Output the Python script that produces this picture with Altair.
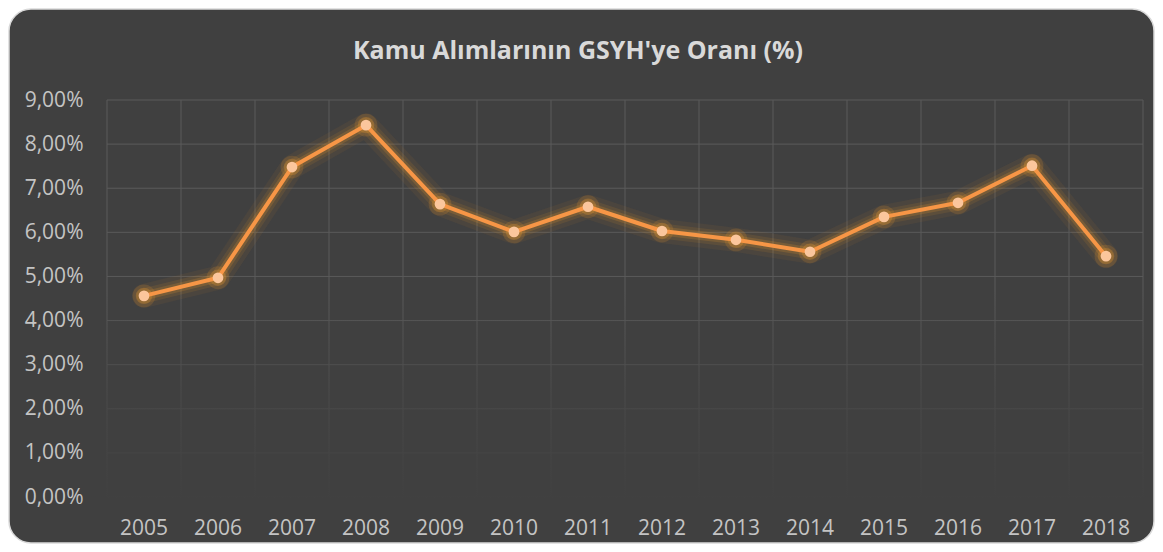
import altair as alt
import pandas as pd

years = ["2005", "2006", "2007", "2008", "2009", "2010", "2011",
         "2012", "2013", "2014", "2015", "2016", "2017", "2018"]
shares = [0.0456, 0.0497, 0.0748, 0.0843, 0.0664, 0.0601, 0.0658,
          0.0603, 0.0583, 0.0556, 0.0635, 0.0667, 0.0751, 0.0546]
y_ticks = [0.0, 0.01, 0.02, 0.03, 0.04, 0.05, 0.06, 0.07, 0.08, 0.09]
title_text = ["Kamu Alımlarının GSYH'ye Oranı (%)"]

df = pd.DataFrame({"year": years, "share": shares})
tick_df = pd.DataFrame({"v": y_ticks})
one = pd.DataFrame({"a": [0]})
title_df = pd.DataFrame({"t": title_text})

W, H = 1036, 397
PAD = {"left": 99, "top": 92, "right": 12, "bottom": 47}
BG = "#404040"
GRID = "#5a5a5a"
FONT = "Open Sans"
LBL = "#c4c4c4"

xscale = alt.Scale(type="band", paddingInner=0, paddingOuter=0)
yscale = alt.Scale(domain=[0, 0.09], nice=False, zero=True)

x_axis = alt.Axis(labelAngle=0, labelFontSize=21, labelColor=LBL,
                  labelFont=FONT, labelPadding=20, ticks=False, tickSize=0,
                  domain=False, grid=False, zindex=2, title=None)
y_axis = alt.Axis(values=y_ticks, labelFontSize=21, labelColor=LBL,
                  labelFont=FONT, labelPadding=24, ticks=False, tickSize=0,
                  domain=False, grid=False, zindex=2, title=None,
                  labelExpr="replace(format(datum.value, '.2%'), '.', ',')")

# rounded chart box
box = alt.Chart(one).mark_rect(
    fill=BG, stroke="#d9d9d9", strokeWidth=1.5, cornerRadius=22
).encode(
    x=alt.value(-PAD["left"] + 1), x2=alt.value(W + PAD["right"] - 1),
    y=alt.value(-PAD["top"] + 1), y2=alt.value(H + PAD["bottom"] - 1),
)

title = alt.Chart(title_df).mark_text(
    font=FONT, fontSize=25, fontWeight="bold", color="#d9d9d9",
    align="center", baseline="alphabetic"
).encode(text="t:N", x=alt.value(471), y=alt.value(-41))

hgrid = alt.Chart(tick_df).mark_rule(color=GRID, strokeWidth=1).encode(
    y=alt.Y("v:Q", scale=yscale, axis=y_axis),
    x=alt.value(0), x2=alt.value(W),
)
vgrid = alt.Chart(df).mark_rule(color=GRID, strokeWidth=1).encode(
    x=alt.X("year:O", bandPosition=0, scale=xscale, axis=x_axis),
    y=alt.value(0), y2=alt.value(H),
)
vgrid_end = alt.Chart(one).mark_rule(color=GRID, strokeWidth=1).encode(
    x=alt.value(W), y=alt.value(0), y2=alt.value(H),
)

fade = alt.Chart(one).mark_rect(
    fill=alt.Gradient(
        gradient="linear",
        stops=[
            alt.GradientStop(color="rgba(64,64,64,0)", offset=0),
            alt.GradientStop(color="rgba(64,64,64,0.6)", offset=0.5),
            alt.GradientStop(color="rgba(64,64,64,0.98)", offset=1),
        ],
        x1=0, x2=0, y1=0, y2=1,
    )
).encode(
    x=alt.value(-1), x2=alt.value(W + 1),
    y=alt.Y(datum=0.047, scale=yscale, axis=y_axis), y2=alt.value(H + 2),
)

base = alt.Chart(df).encode(
    x=alt.X("year:O", scale=xscale, axis=x_axis),
    y=alt.Y("share:Q", scale=yscale, axis=y_axis),
)

glow1 = base.mark_line(color="#e0902a", strokeWidth=24, opacity=0.07, strokeJoin="round", strokeCap="round")
glow2 = base.mark_line(color="#e0902a", strokeWidth=15, opacity=0.12, strokeJoin="round", strokeCap="round")
glow3 = base.mark_line(color="#e8952f", strokeWidth=9, opacity=0.2, strokeJoin="round", strokeCap="round")
pglow = base.mark_circle(color="#e8952f", size=520, opacity=0.18)
pglow2 = base.mark_circle(color="#eb9a33", size=270, opacity=0.28)
line = base.mark_line(color="#f79646", strokeWidth=4, strokeJoin="round")
pts = base.mark_circle(color="#fbc69c", size=115, opacity=1)

chart = alt.layer(
    box, title, hgrid, vgrid, vgrid_end, fade, glow1, glow2, glow3, pglow, pglow2, line, pts
).properties(
    width=W, height=H,
    autosize=alt.AutoSizeParams(type="none"),
    padding=PAD,
    background="white",
).configure_view(stroke=None)

chart.save("out.html", embed_options={"renderer": "svg", "actions": False})
